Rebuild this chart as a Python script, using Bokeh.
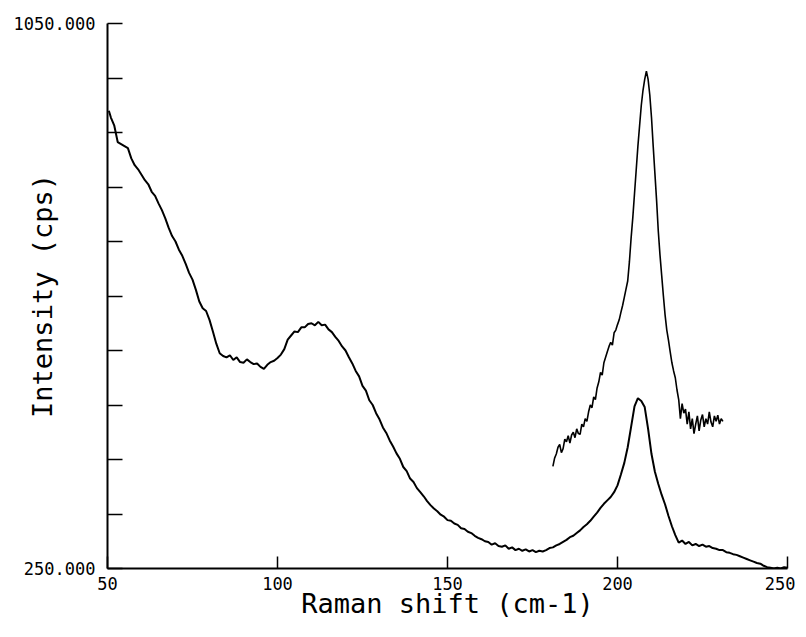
import math
from bokeh.plotting import figure
from bokeh.models import Range1d, FixedTicker
from bokeh.embed import file_html
from bokeh.resources import INLINE

# ---- data ----
main_start_x = 50.4
main_start_y = 922
main_x = [main_start_x] + list(range(51, 251))
main_y = [main_start_y,
    912, 900, 876, 873, 870, 867, 852, 842, 836, 828,
    820, 814, 803, 797, 786, 776, 764, 750, 738, 730,
    718, 709, 697, 684, 674, 659, 642, 632, 628, 615,
    598, 580, 566, 562, 560, 563, 556, 560, 553, 552,
    557, 553, 550, 551, 546, 543, 549, 553, 555, 559,
    564, 572, 586, 592, 598, 597, 604, 604, 609, 610,
    607, 612, 607, 608, 601, 597, 590, 584, 576, 570,
    560, 551, 540, 532, 518, 511, 497, 490, 478, 469,
    457, 449, 438, 429, 419, 411, 399, 393, 382, 377,
    368, 362, 356, 349, 343, 338, 334, 329, 326, 321,
    320, 316, 314, 309, 308, 304, 302, 298, 295, 293,
    290, 289, 285, 287, 283, 282, 284, 279, 281, 277,
    279, 276, 278, 275, 277, 274, 276, 275, 277, 280,
    281, 284, 286, 289, 292, 296, 298, 302, 306, 311,
    315, 320, 326, 332, 339, 345, 350, 355, 362, 372,
    388, 405, 428, 458, 488, 500, 496, 487, 455, 418,
    392, 374, 358, 344, 327, 312, 299, 288, 291, 286,
    289, 284, 286, 283, 285, 282, 283, 280, 279, 277,
    277, 274, 273, 271, 270, 268, 266, 264, 262, 260,
    258, 257, 254, 252, 251, 250, 251, 250, 252, 251]

upper_x = [181, 181.5, 182, 182.5, 183, 183.5, 184, 184.5, 185, 185.5,
           186, 186.5, 187, 187.5, 188, 188.5, 189, 189.5, 190, 190.5,
           191, 191.5, 192, 192.5, 193, 193.5, 194, 194.5, 195, 195.5,
           196, 196.5, 197, 197.5, 198, 198.5, 199, 199.5, 200, 200.5,
           201, 201.5, 202, 202.5, 203, 203.5, 204, 204.5, 205, 205.5,
           206, 206.5, 207, 207.5, 208, 208.5, 209, 209.5, 210, 210.5,
           211, 211.5, 212, 212.5, 213, 213.5, 214, 214.5, 215, 215.5,
           216, 216.5, 217, 217.5, 218, 218.5, 219, 219.5, 220, 220.5,
           221, 221.5, 222, 222.5, 223, 223.5, 224, 224.5, 225, 225.5,
           226, 226.5, 227, 227.5, 228, 228.5, 229, 229.5, 230, 230.5,
           231]
upper_y = [400, 412, 418, 428, 432, 420, 426, 440, 436, 445,
           434, 446, 450, 442, 455, 448, 447, 462, 458, 470,
           466, 480, 490, 486, 502, 498, 515, 524, 538, 534,
           552, 560, 568, 576, 582, 578, 596, 600, 608, 615,
           626, 636, 648, 660, 672, 700, 735, 765, 800, 835,
           870, 900, 930, 952, 968, 980, 968, 945, 912, 870,
           830, 790, 745, 710, 680, 650, 622, 600, 585, 568,
           552, 540, 530, 512, 498, 470, 492, 478, 484, 462,
           480, 455, 470, 448, 462, 474, 452, 468, 476, 458,
           470, 462, 480, 465, 458, 474, 466, 475, 462, 470,
           466]

x_ticks = [50, 100, 150, 200, 250]
y_ticks = [250, 330, 410, 490, 570, 650, 730, 810, 890, 970, 1050]
y_tick_labels = {250: "250.000", 1050: "1050.000"}
x_title = "Raman shift (cm-1)"
y_title = "Intensity (cps)"

FONT = "DejaVu Sans Mono"
W, H = 795, 625

p = figure(width=W, height=H, output_backend="svg", toolbar_location=None,
           x_range=Range1d(50, 250), y_range=Range1d(250, 1050),
           min_border_left=107, min_border_top=23, min_border_right=8,
           min_border_bottom=57)
p.outline_line_color = None
p.xgrid.visible = False
p.ygrid.visible = False
p.background_fill_color = "white"
p.border_fill_color = "white"

for ax in (p.xaxis[0], p.yaxis[0]):
    ax.axis_line_width = 2
    ax.axis_line_color = "black"
    ax.major_tick_line_color = "black"
    ax.major_tick_line_width = 1.5
    ax.major_tick_out = 0
    ax.minor_tick_line_color = None
    ax.major_label_text_font = FONT
    ax.major_label_text_font_size = "17px"
    ax.major_label_text_color = "black"
    ax.axis_label_text_font = FONT
    ax.axis_label_text_font_size = "27px"
    ax.axis_label_text_font_style = "normal"
    ax.axis_label_text_color = "black"

p.xaxis[0].ticker = FixedTicker(ticks=x_ticks)
p.xaxis[0].major_tick_in = 12
p.xaxis[0].major_label_standoff = 8
p.xaxis[0].axis_label = x_title
p.xaxis[0].axis_label_standoff = -5

p.yaxis[0].ticker = FixedTicker(ticks=y_ticks)
p.yaxis[0].major_tick_in = 15
p.yaxis[0].major_label_standoff = 12
overrides = {t: "" for t in y_ticks}
overrides.update(y_tick_labels)
p.yaxis[0].major_label_overrides = overrides
p.yaxis[0].axis_label = y_title
p.yaxis[0].axis_label_standoff = -47

p.line(main_x, main_y, line_color="black", line_width=2)
p.line(upper_x, upper_y, line_color="black", line_width=1.6)

open("out.html", "w").write(file_html(p, INLINE))
